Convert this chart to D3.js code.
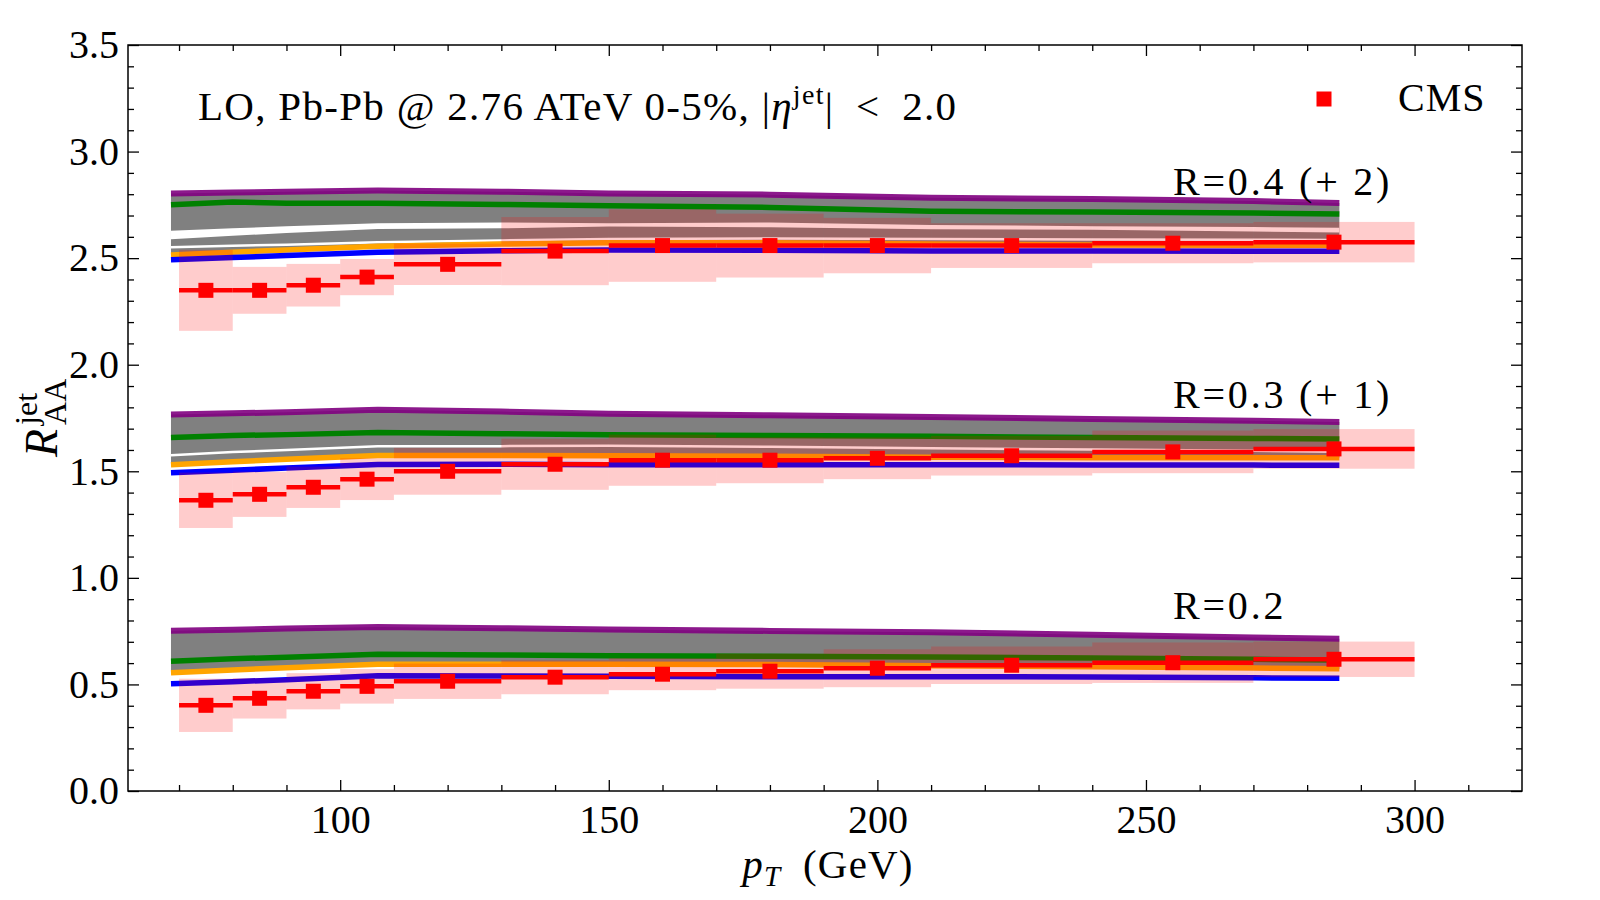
<!DOCTYPE html>
<html lang="en">
<head>
  <meta charset="UTF-8">
  <title>Jet RAA vs pT</title>
  <style>
    body { margin: 0; background: #fff; }
    svg { display: block; font-family: "Liberation Serif", "DejaVu Serif", serif; }
    .tick text { font-size: 40px; fill: #000; }
    .tick line { stroke: #000; stroke-width: 1.3; }
  </style>
</head>
<body>
  <div id="chart"></div>
  <script src="https://d3js.org/d3.v7.min.js"></script>
  <script>
    // theory pT grid (GeV)
    const thPt = [68.5, 80, 90, 107, 130, 150, 180, 210, 240, 270, 286];

    // R = 0.2 theory curves
    const r02Purple = [0.752, 0.757, 0.762, 0.770, 0.764, 0.758, 0.751, 0.745, 0.733, 0.720, 0.714];
    const r02Green  = [0.609, 0.620, 0.628, 0.642, 0.638, 0.634, 0.632, 0.629, 0.624, 0.618, 0.615];
    const r02White  = [0.542, 0.553, 0.563, 0.580, 0.580, 0.579, 0.577, 0.572, 0.567, 0.562, 0.559];
    const r02Orange = [0.555, 0.568, 0.578, 0.595, 0.595, 0.595, 0.593, 0.588, 0.583, 0.577, 0.574];
    const r02Blue   = [0.503, 0.513, 0.522, 0.541, 0.540, 0.538, 0.536, 0.536, 0.535, 0.531, 0.529];

    // R = 0.3 theory curves (plotted + 1)
    const r03Purple = [0.766, 0.772, 0.777, 0.789, 0.780, 0.770, 0.763, 0.755, 0.745, 0.737, 0.731];
    const r03Green  = [0.659, 0.668, 0.672, 0.682, 0.676, 0.671, 0.668, 0.664, 0.659, 0.654, 0.651];
    const r03White  = [0.575, 0.590, 0.600, 0.618, 0.618, 0.620, 0.615, 0.608, 0.602, 0.596, 0.592];
    const r03Orange = [0.531, 0.545, 0.556, 0.574, 0.574, 0.573, 0.570, 0.566, 0.563, 0.563, 0.563];
    const r03Blue   = [0.493, 0.505, 0.515, 0.532, 0.533, 0.531, 0.531, 0.531, 0.530, 0.529, 0.528];

    // R = 0.4 theory curves (plotted + 2)
    const r04Purple = [0.803, 0.808, 0.812, 0.817, 0.812, 0.803, 0.798, 0.783, 0.777, 0.768, 0.759];
    const r04Green  = [0.751, 0.763, 0.758, 0.758, 0.752, 0.746, 0.738, 0.720, 0.716, 0.712, 0.707];
    const r04GapHi  = [0.629, 0.640, 0.650, 0.664, 0.667, 0.664, 0.667, 0.656, 0.650, 0.646, 0.643];
    const r04GapLo  = [0.589, 0.605, 0.618, 0.637, 0.640, 0.648, 0.645, 0.636, 0.633, 0.625, 0.620];
    const r04White  = [0.551, 0.558, 0.563, 0.574, 0.583, 0.590, 0.592, 0.590, 0.588, 0.586, 0.585];
    const r04Orange = [0.515, 0.528, 0.538, 0.556, 0.566, 0.572, 0.572, 0.566, 0.562, 0.561, 0.560];
    const r04Blue   = [0.492, 0.503, 0.512, 0.528, 0.535, 0.538, 0.537, 0.533, 0.533, 0.532, 0.532];

    // CMS data
    const binLo = [70, 80, 90, 100, 110, 130, 150, 170, 190, 210, 240, 270];
    const binHi = [80, 90, 100, 110, 130, 150, 170, 190, 210, 240, 270, 300];
    const cmsPt = [75, 85, 95, 105, 120, 140, 160, 180, 200, 225, 255, 285];
    const cmsR02 = [0.402, 0.435, 0.468, 0.491, 0.515, 0.534, 0.548, 0.562, 0.576, 0.590, 0.602, 0.618];
    const cmsR02Sys = [0.125, 0.095, 0.085, 0.081, 0.083, 0.080, 0.075, 0.082, 0.089, 0.088, 0.095, 0.083];
    const cmsR03 = [0.364, 0.392, 0.425, 0.463, 0.500, 0.533, 0.552, 0.552, 0.561, 0.573, 0.591, 0.605];
    const cmsR03Sys = [0.130, 0.106, 0.097, 0.098, 0.110, 0.120, 0.120, 0.108, 0.098, 0.093, 0.100, 0.093];
    const cmsR04 = [0.349, 0.349, 0.373, 0.411, 0.471, 0.533, 0.559, 0.559, 0.559, 0.559, 0.570, 0.575];
    const cmsR04Sys = [0.190, 0.110, 0.100, 0.085, 0.097, 0.160, 0.170, 0.150, 0.130, 0.105, 0.094, 0.095];

    const groupLabels = ["R=0.2", "R=0.3 (+ 1)", "R=0.4 (+ 2)"];
    const groupOffsets = [0, 1, 2];
    const xTicks = [100, 150, 200, 250, 300];
    const yTicks = [0, 0.5, 1.0, 1.5, 2.0, 2.5, 3.0, 3.5];

    const groups = [
      { purple: r02Purple, green: r02Green, white: r02White, orange: r02Orange, blue: r02Blue,
        cms: cmsR02, sys: cmsR02Sys },
      { purple: r03Purple, green: r03Green, white: r03White, orange: r03Orange, blue: r03Blue,
        cms: cmsR03, sys: cmsR03Sys },
      { purple: r04Purple, green: r04Green, white: r04White, orange: r04Orange, blue: r04Blue,
        gapHi: r04GapHi, gapLo: r04GapLo, cms: cmsR04, sys: cmsR04Sys }
    ];

    const width = 1600, height = 900;
    const mLeft = 128, mRight = 1522, mTop = 45, mBottom = 791;

    const svg = d3.select("#chart").append("svg")
      .attr("width", width).attr("height", height);

    const x = d3.scaleLinear().domain([60.5, 320]).range([mLeft, mRight]);
    const y = d3.scaleLinear().domain([0, 3.5]).range([mBottom, mTop]);

    const plot = svg.append("g");
    const pts = thPt.map((p, i) => i);

    groups.forEach((gr, gi) => {
      const off = groupOffsets[gi];
      const line = arr => d3.line().x(i => x(thPt[i])).y(i => y(arr[i] + off))(pts);

      // grey band
      plot.append("path")
        .attr("d", d3.area().x(i => x(thPt[i]))
          .y0(i => y(gr.orange[i] + off)).y1(i => y(gr.purple[i] + off))(pts))
        .attr("fill", "#808080");

      if (gr.gapHi) {
        plot.append("path")
          .attr("d", d3.area().x(i => x(thPt[i]))
            .y0(i => y(gr.gapLo[i] + off)).y1(i => y(gr.gapHi[i] + off))(pts))
          .attr("fill", "#fff");
      }

      plot.append("path").attr("d", line(gr.white))
        .attr("fill", "none").attr("stroke", "#fff").attr("stroke-width", 2.5);
      plot.append("path").attr("d", line(gr.orange))
        .attr("fill", "none").attr("stroke", "orange").attr("stroke-width", 5.5);
      plot.append("path").attr("d", line(gr.blue))
        .attr("fill", "none").attr("stroke", "blue").attr("stroke-width", 5.5);
      plot.append("path").attr("d", line(gr.green))
        .attr("fill", "none").attr("stroke", "green").attr("stroke-width", 5.5);
      plot.append("path").attr("d", line(gr.purple))
        .attr("fill", "none").attr("stroke", "purple").attr("stroke-width", 6)
        .attr("stroke-opacity", 0.9);
    });

    // CMS systematic boxes
    const idx = cmsPt.map((p, i) => i);
    groups.forEach((gr, gi) => {
      const off = groupOffsets[gi];
      plot.append("g").selectAll("rect")
        .data(idx)
        .join("rect")
        .attr("x", i => x(binLo[i]))
        .attr("width", i => x(binHi[i]) - x(binLo[i]))
        .attr("y", i => y(gr.cms[i] + gr.sys[i] + off))
        .attr("height", i => y(gr.cms[i] - gr.sys[i] + off) - y(gr.cms[i] + gr.sys[i] + off))
        .attr("fill", "red").attr("fill-opacity", 0.2);
    });

    // CMS points with x error bars
    groups.forEach((gr, gi) => {
      const off = groupOffsets[gi];
      plot.append("g").selectAll("line")
        .data(idx).join("line")
        .attr("x1", i => x(binLo[i])).attr("x2", i => x(binHi[i]))
        .attr("y1", i => y(gr.cms[i] + off)).attr("y2", i => y(gr.cms[i] + off))
        .attr("stroke", "red").attr("stroke-width", 4.5);
      plot.append("g").selectAll("rect")
        .data(idx).join("rect")
        .attr("x", i => x(cmsPt[i]) - 7.5).attr("y", i => y(gr.cms[i] + off) - 7.5)
        .attr("width", 15).attr("height", 15)
        .attr("fill", "red");
    });

    // axes, ticks pointing inwards
    const xMinor = d3.range(70, 320, 10).filter(v => v % 50);
    const yMinor = d3.range(1, 35).filter(v => v % 5).map(v => v / 10);

    svg.append("g").attr("transform", `translate(0,${mBottom})`)
      .call(d3.axisBottom(x).tickValues(xTicks).tickSize(-11).tickPadding(14).tickFormat(d3.format("d")));
    svg.append("g").attr("transform", `translate(0,${mBottom})`)
      .call(d3.axisBottom(x).tickValues(xMinor).tickSize(-6).tickFormat(""));
    svg.append("g").attr("transform", `translate(0,${mTop})`)
      .call(d3.axisTop(x).tickValues(xTicks).tickSize(-11).tickFormat(""));
    svg.append("g").attr("transform", `translate(0,${mTop})`)
      .call(d3.axisTop(x).tickValues(xMinor).tickSize(-6).tickFormat(""));

    svg.append("g").attr("transform", `translate(${mLeft},0)`)
      .call(d3.axisLeft(y).tickValues(yTicks).tickSize(-11).tickPadding(9).tickFormat(d3.format(".1f")));
    svg.append("g").attr("transform", `translate(${mLeft},0)`)
      .call(d3.axisLeft(y).tickValues(yMinor).tickSize(-6).tickFormat(""));
    svg.append("g").attr("transform", `translate(${mRight},0)`)
      .call(d3.axisRight(y).tickValues(yTicks).tickSize(-11).tickFormat(""));
    svg.append("g").attr("transform", `translate(${mRight},0)`)
      .call(d3.axisRight(y).tickValues(yMinor).tickSize(-6).tickFormat(""));

    svg.selectAll(".domain").remove();
    svg.selectAll("g[font-family]").attr("font-family", null).attr("font-size", null);

    svg.append("rect")
      .attr("x", mLeft).attr("y", mTop)
      .attr("width", mRight - mLeft).attr("height", mBottom - mTop)
      .attr("fill", "none").attr("stroke", "#000").attr("stroke-width", 1.5);

    // group labels
    const labelY = [0.83, 1.82, 2.82];
    groupLabels.forEach((t, i) => {
      svg.append("text")
        .attr("x", 1173).attr("y", y(labelY[i]) + 5)
        .attr("font-size", 40)
        .attr("letter-spacing", 2.8)
        .text(t);
    });

    // title
    const title = svg.append("text").attr("x", 198).attr("y", 120)
      .attr("font-size", 41).attr("letter-spacing", 1.3);
    title.append("tspan").text("LO, Pb-Pb @ 2.76 ATeV 0-5%, |");
    title.append("tspan").attr("font-style", "italic").text("\u03b7");
    title.append("tspan").attr("font-size", 28).attr("dy", -16).text("jet");
    title.append("tspan").attr("dy", 16).text("|\u2002<\u20022.0");

    // legend
    svg.append("rect").attr("x", 1324 - 7.5).attr("y", 99 - 7.5)
      .attr("width", 15).attr("height", 15).attr("fill", "red");
    svg.append("text").attr("x", 1398).attr("y", 111)
      .attr("font-size", 40).attr("letter-spacing", 1).text("CMS");

    // x label
    const xl = svg.append("text").attr("x", (mLeft + mRight) / 2 + 3).attr("y", 878)
      .attr("text-anchor", "middle").attr("font-size", 41).attr("letter-spacing", 1.2);
    xl.append("tspan").attr("font-style", "italic").text("p");
    xl.append("tspan").attr("font-style", "italic").attr("font-size", 29).attr("dy", 8).text("T");
    xl.append("tspan").attr("dy", -8).text("\u2002(GeV)");

    // y label
    const yl = svg.append("g").attr("transform", "translate(57,457) rotate(-90)");
    const rr = yl.append("text").attr("font-size", 46).attr("font-style", "italic").text("R");
    const rw = rr.node().getComputedTextLength() + 4;
    yl.append("text").attr("x", rw).attr("y", -20).attr("font-size", 32).text("jet");
    yl.append("text").attr("x", rw).attr("y", 9).attr("font-size", 32).text("AA");
  </script>
</body>
</html>
